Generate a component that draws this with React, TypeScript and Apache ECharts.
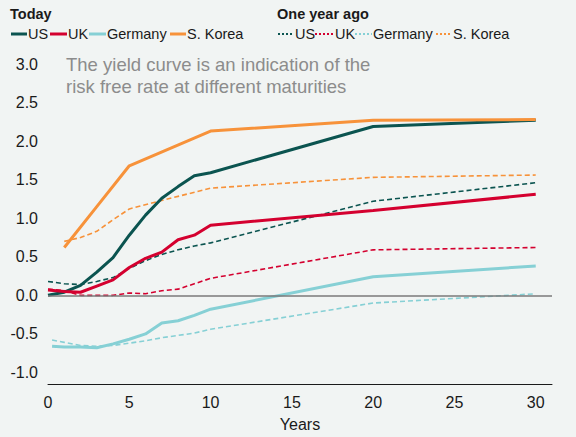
import React, { useEffect, useRef } from "react";
import * as echarts from "echarts";

const countries = ["US", "UK", "Germany", "S. Korea"];
const colors = ["#0b5450", "#d4002f", "#86d0d5", "#f7923a"];

// Today: maturities (years) and yields (%)
const usTodayX = [0, 1, 2, 3, 4, 5, 6, 7, 8, 9, 10, 20, 30];
const usTodayY = [0.0, 0.04, 0.13, 0.3, 0.49, 0.78, 1.04, 1.26, 1.41, 1.55, 1.59, 2.19, 2.27];
const ukTodayX = [0, 1, 2, 3, 4, 5, 6, 7, 8, 9, 10, 20, 30];
const ukTodayY = [0.07, 0.05, 0.04, 0.12, 0.2, 0.36, 0.48, 0.56, 0.72, 0.78, 0.91, 1.1, 1.31];
const deTodayX = [0.25, 1, 2, 3, 4, 5, 6, 7, 8, 9, 10, 20, 30];
const deTodayY = [-0.66, -0.67, -0.67, -0.68, -0.63, -0.57, -0.5, -0.36, -0.33, -0.26, -0.18, 0.24, 0.38];
const krTodayX = [1, 3, 5, 10, 20, 30];
const krTodayY = [0.62, 1.15, 1.68, 2.13, 2.27, 2.28];

// One year ago
const usAgoX = [0, 1, 2, 3, 4, 5, 6, 7, 8, 9, 10, 20, 30];
const usAgoY = [0.18, 0.15, 0.14, 0.18, 0.23, 0.35, 0.45, 0.53, 0.59, 0.64, 0.68, 1.22, 1.46];
const ukAgoX = [0, 1, 2, 3, 4, 5, 6, 7, 8, 9, 10, 20, 30];
const ukAgoY = [0.08, 0.06, 0.0, 0.0, 0.0, 0.03, 0.02, 0.06, 0.08, 0.15, 0.22, 0.59, 0.62];
const deAgoX = [0.25, 1, 2, 3, 4, 5, 6, 7, 8, 9, 10, 20, 30];
const deAgoY = [-0.58, -0.61, -0.65, -0.66, -0.65, -0.62, -0.59, -0.55, -0.52, -0.49, -0.44, -0.1, 0.02];
const krAgoX = [1, 2, 3, 4, 5, 7, 10, 20, 30];
const krAgoY = [0.7, 0.75, 0.83, 0.98, 1.12, 1.23, 1.39, 1.53, 1.56];

const noteLines = ["The yield curve is an indication of the", "risk free rate at different maturities"];

const FONT = "'Liberation Sans', Arial, sans-serif";

function pairs(xs: number[], ys: number[]) {
  return xs.map((x, i) => [x, ys[i]]);
}

export default function App() {
  const ref = useRef<HTMLDivElement>(null);

  useEffect(() => {
    if (!ref.current) return;
    const chart = echarts.init(ref.current, undefined, { renderer: "svg" });

    const today = [pairs(usTodayX, usTodayY), pairs(ukTodayX, ukTodayY), pairs(deTodayX, deTodayY), pairs(krTodayX, krTodayY)];
    const ago = [pairs(usAgoX, usAgoY), pairs(ukAgoX, ukAgoY), pairs(deAgoX, deAgoY), pairs(krAgoX, krAgoY)];

    const series: any[] = [];
    ago.forEach((d, i) => {
      series.push({
        name: countries[i] + " (one year ago)",
        type: "line",
        data: d,
        symbol: "none",
        silent: true,
        lineStyle: { color: colors[i], width: 1.6, type: [5, 3] },
        z: 2,
      });
    });
    today.forEach((d, i) => {
      series.push({
        name: countries[i],
        type: "line",
        data: d,
        symbol: "none",
        silent: true,
        lineStyle: { color: colors[i], width: 3 },
        z: 3,
      });
    });
    series[0].markLine = {
      silent: true,
      symbol: "none",
      label: { show: false },
      lineStyle: { color: "#7a7a7a", width: 1.6, type: "solid" },
      data: [{ yAxis: 0 }],
    };

    // custom legend
    const graphics: any[] = [];
    graphics.push({
      type: "text", left: 10, top: 6,
      style: { text: "Today", font: `bold 14.5px ${FONT}`, fill: "#1a1a1a" },
    });
    graphics.push({
      type: "text", left: 277, top: 6,
      style: { text: "One year ago", font: `bold 14.5px ${FONT}`, fill: "#1a1a1a" },
    });
    const todayPos = [
      [11, 28], [50, 68], [89, 107], [170, 187],
    ];
    const agoPos = [
      [278, 295], [315, 335], [355, 373], [436, 453],
    ];
    countries.forEach((c, i) => {
      const [lx, tx] = todayPos[i];
      graphics.push({
        type: "line",
        shape: { x1: lx, y1: 34, x2: tx - 1, y2: 34 },
        style: { stroke: colors[i], lineWidth: 3 },
      });
      graphics.push({
        type: "text", x: tx, y: 34,
        style: { text: c, font: `14.5px ${FONT}`, fill: "#1a1a1a", textVerticalAlign: "middle", verticalAlign: "middle" },
      });
      const [ax, atx] = agoPos[i];
      graphics.push({
        type: "line",
        shape: { x1: ax, y1: 34, x2: atx - 1, y2: 34 },
        style: { stroke: colors[i], lineWidth: 2, lineDash: [2, 2] },
      });
      graphics.push({
        type: "text", x: atx, y: 34,
        style: { text: c, font: `14.5px ${FONT}`, fill: "#1a1a1a", textVerticalAlign: "middle", verticalAlign: "middle" },
      });
    });
    noteLines.forEach((t, i) => {
      graphics.push({
        type: "text", x: 66, y: 64 + i * 22,
        style: { text: t, font: `18.5px ${FONT}`, fill: "#8c8c8c", verticalAlign: "middle", textVerticalAlign: "middle" },
      });
    });

    chart.setOption({
      animation: false,
      backgroundColor: "#f1f4f3",
      textStyle: { fontFamily: FONT },
      grid: { left: 48, right: 24, top: 64, bottom: 49, containLabel: false },
      xAxis: {
        type: "value",
        min: 0,
        max: 31,
        interval: 5,
        name: "Years",
        nameLocation: "middle",
        nameGap: 32,
        nameTextStyle: { fontSize: 16, color: "#1a1a1a", fontFamily: FONT },
        axisLine: { onZero: false, lineStyle: { color: "#1a1a1a", width: 1 } },
        axisTick: { show: false },
        splitLine: { show: false },
        axisLabel: {
          fontSize: 16,
          color: "#1a1a1a",
          margin: 10,
          fontFamily: FONT,
          showMaxLabel: false,
          formatter: (v: number) => (v % 5 === 0 ? String(v) : ""),
        },
      },
      yAxis: {
        type: "value",
        min: -1.15,
        max: 3,
        splitNumber: 8,
        minInterval: 0.5,
        maxInterval: 0.5,
        axisLine: { show: false },
        axisTick: { show: false },
        splitLine: { show: false },
        axisLabel: {
          fontSize: 16,
          color: "#1a1a1a",
          margin: 10,
          fontFamily: FONT,
          showMinLabel: false,
          formatter: (v: number) => (Math.abs(v + 1.15) < 1e-6 ? "" : v.toFixed(1)),
        },
      },
      series,
      graphic: graphics,
    });

    return () => chart.dispose();
  }, []);

  return (
    <div
      ref={ref}
      style={{ position: "fixed", left: 0, top: 0, width: 576, height: 437 }}
    />
  );
}
